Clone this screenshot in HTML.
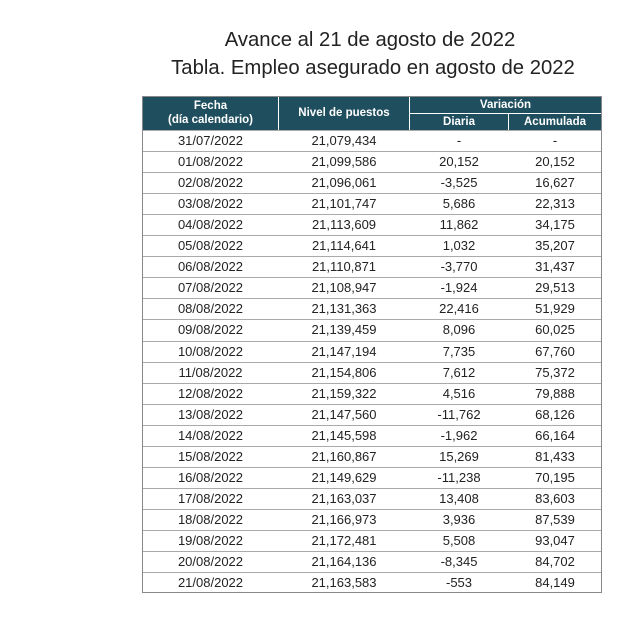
<!DOCTYPE html>
<html><head><meta charset="utf-8"><style>
body{margin:0;width:630px;height:620px;background:#fff;position:relative;font-family:"Liberation Sans",sans-serif;color:#222;overflow:hidden}
.t{position:absolute;left:0;width:740px;text-align:center;font-size:20.3px;color:#222}
.tbl{position:absolute;left:142px;top:96px;width:460px;height:497px;border:1px solid #888;box-sizing:border-box}
.hd{position:absolute;left:0;top:0;width:458px;height:33px;background:#1f4e5f;color:#fff;font-weight:bold;font-size:11.5px}
.hd div{position:absolute;text-align:center}
.row{position:absolute;left:0;width:458px;height:21px;border-top:1px solid #aaa;font-size:13px;line-height:20px}
.row span{position:absolute;text-align:center}
</style></head><body>
<div class="t" style="top:29px;">Avance al 21 de agosto de 2022</div>
<div class="t" style="top:57px;left:3px;">Tabla. Empleo asegurado en agosto de 2022</div>
<div class="tbl">
<div class="hd">
<div style="left:0;width:135px;top:2px;line-height:14px">Fecha<br>(día calendario)</div>
<div style="left:135px;width:1px;height:33px;background:#fff"></div>
<div style="left:136px;width:130px;top:10px">Nivel de puestos</div>
<div style="left:266px;width:1px;height:33px;background:#fff"></div>
<div style="left:267px;width:191px;top:2px">Variación</div>
<div style="left:267px;top:16px;width:191px;height:1px;background:#fff"></div>
<div style="left:267px;width:98px;top:19px">Diaria</div>
<div style="left:365px;top:17px;width:1px;height:16px;background:#fff"></div>
<div style="left:366px;width:92px;top:19px">Acumulada</div>
</div>
<div id="rows"></div>
</div>
<script>
var d=[["31/07/2022","21,079,434","-","-"],["01/08/2022","21,099,586","20,152","20,152"],["02/08/2022","21,096,061","-3,525","16,627"],["03/08/2022","21,101,747","5,686","22,313"],["04/08/2022","21,113,609","11,862","34,175"],["05/08/2022","21,114,641","1,032","35,207"],["06/08/2022","21,110,871","-3,770","31,437"],["07/08/2022","21,108,947","-1,924","29,513"],["08/08/2022","21,131,363","22,416","51,929"],["09/08/2022","21,139,459","8,096","60,025"],["10/08/2022","21,147,194","7,735","67,760"],["11/08/2022","21,154,806","7,612","75,372"],["12/08/2022","21,159,322","4,516","79,888"],["13/08/2022","21,147,560","-11,762","68,126"],["14/08/2022","21,145,598","-1,962","66,164"],["15/08/2022","21,160,867","15,269","81,433"],["16/08/2022","21,149,629","-11,238","70,195"],["17/08/2022","21,163,037","13,408","83,603"],["18/08/2022","21,166,973","3,936","87,539"],["19/08/2022","21,172,481","5,508","93,047"],["20/08/2022","21,164,136","-8,345","84,702"],["21/08/2022","21,163,583","-553","84,149"]];
var h="",L=[[0,135],[136,130],[267,98],[366,92]];
d.forEach(function(r,i){h+='<div class="row" style="top:'+(33+i*21.05)+'px">';r.forEach(function(c,j){h+='<span style="left:'+L[j][0]+'px;width:'+L[j][1]+'px">'+c+'</span>'});h+='</div>'});
document.getElementById("rows").innerHTML=h;
</script>
</body></html>
